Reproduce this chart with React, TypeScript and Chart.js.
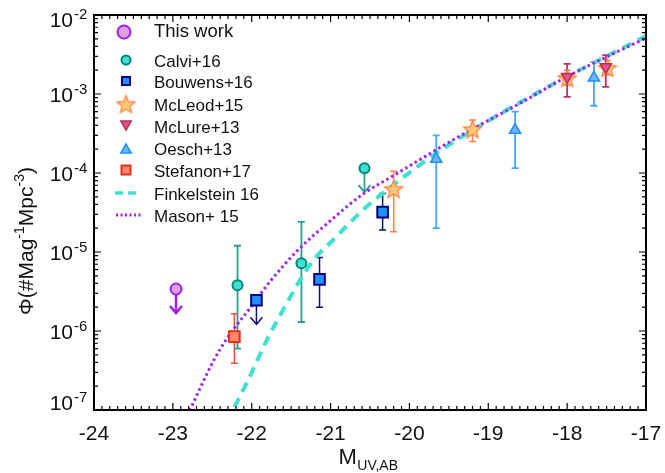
import { useEffect, useRef } from 'react';
import { Chart, registerables } from 'chart.js';

Chart.register(...registerables);

// ---------- axis ticks ----------
const xTickValues = [-24, -23, -22, -21, -20, -19, -18, -17];
const xTickLabels = ['-24', '-23', '-22', '-21', '-20', '-19', '-18', '-17'];
const yTickValues = [1e-7, 1e-6, 1e-5, 1e-4, 1e-3, 1e-2];
const yTickBase = '10';
const yTickExponents = ['-7', '-6', '-5', '-4', '-3', '-2'];

// ---------- data ----------
const thisWorkM = [-22.96];
const thisWorkPhi = [3.4e-6];
const thisWorkLimit = [true];

const calviM = [-22.18, -21.37, -20.57];
const calviPhi = [3.8e-6, 7.2e-6, 1.15e-4];
const calviLo = [6.0e-7, 1.3e-6, null];
const calviHi = [1.2e-5, 2.4e-5, null];
const calviLimit = [false, false, true];

const bouwensM = [-21.94, -21.14, -20.34];
const bouwensPhi = [2.45e-6, 4.5e-6, 3.2e-5];
const bouwensLo = [null, 2.0e-6, 1.9e-5];
const bouwensHi = [null, 8.5e-6, 5.5e-5];
const bouwensLimit = [true, false, false];

const mcleodM = [-20.2, -19.2, -18.0, -17.49];
const mcleodPhi = [6.3e-5, 3.6e-4, 1.6e-3, 2.15e-3];
const mcleodLo = [1.8e-5, 2.5e-4, 1.3e-3, 1.75e-3];
const mcleodHi = [1.05e-4, 4.7e-4, 2.0e-3, 2.65e-3];

const mclureM = [-18.0, -17.51];
const mclurePhi = [1.65e-3, 2.2e-3];
const mclureLo = [9.2e-4, 1.23e-3];
const mclureHi = [2.4e-3, 3.1e-3];

const oeschM = [-19.66, -18.66, -17.66];
const oeschPhi = [1.5e-4, 3.5e-4, 1.6e-3];
const oeschLo = [2.0e-5, 1.15e-4, 7.1e-4];
const oeschHi = [3.0e-4, 6.0e-4, 2.55e-3];

const stefanonM = [-22.22];
const stefanonPhi = [8.5e-7];
const stefanonLo = [3.9e-7];
const stefanonHi = [1.65e-6];

const finkelsteinM = [-22.32, -22.24, -22.06, -21.81, -21.56, -21.37, -21.2, -21.0, -20.57, -20.2, -19.66, -19.2, -18.6, -18.0, -17.5, -17.0];
const finkelsteinPhi = [7.1e-8, 1.0e-7, 2.24e-7, 7.6e-7, 2.2e-6, 4.7e-6, 8.3e-6, 1.32e-5, 3.55e-5, 7.1e-5, 1.78e-4, 3.47e-4, 7.8e-4, 1.66e-3, 3.0e-3, 5.4e-3];

const masonM = [-22.85, -22.78, -22.49, -22.32, -22.03, -21.77, -21.43, -21.0, -20.59, -20.2, -19.37, -18.6, -18.0, -17.5, -17.0];
const masonPhi = [7.4e-8, 1.02e-7, 4.1e-7, 7.9e-7, 1.9e-6, 4.2e-6, 1.02e-5, 2.5e-5, 5.4e-5, 9.3e-5, 2.9e-4, 7.6e-4, 1.66e-3, 2.95e-3, 5.1e-3];

const legendLabels = ['This work', 'Calvi+16', 'Bouwens+16', 'McLeod+15', 'McLure+13', 'Oesch+13', 'Stefanon+17', 'Finkelstein 16', 'Mason+ 15'];

// ---------- styles ----------
const FONT = '"Liberation Sans", Arial, Helvetica, sans-serif';
const TEXT = '#111111';

const C = {
  thisFill: '#dda0dd', thisStroke: '#a020f0',
  calviFill: '#40e0d0', calviStroke: '#00877d', calviErr: '#2a9d93',
  bouwFill: '#1e90ff', bouwStroke: '#000080', bouwErr: '#101070',
  mclFill: '#ffc878', mclStroke: '#ff8040', mclErr: '#ff8050',
  mcluFill: '#e8508a', mcluStroke: '#b0305a', mcluErr: '#c03060',
  oeFill: '#6cb4f0', oeStroke: '#1e8fff', oeErr: '#45a5ff',
  stFill: '#ff8c69', stStroke: '#e0301e', stErr: '#e8503a',
  fink: '#40e0d0', mason: '#a020f0',
};

type Series = {
  m: number[]; phi: number[]; lo?: (number | null)[]; hi?: (number | null)[]; limit?: boolean[];
  color: string; width: number;
};

const errSeries: Series[] = [
  { m: stefanonM, phi: stefanonPhi, lo: stefanonLo, hi: stefanonHi, color: C.stErr, width: 1.5 },
  { m: oeschM, phi: oeschPhi, lo: oeschLo, hi: oeschHi, color: C.oeErr, width: 1.8 },
  { m: mcleodM, phi: mcleodPhi, lo: mcleodLo, hi: mcleodHi, color: C.mclErr, width: 1.5 },
  { m: mclureM, phi: mclurePhi, lo: mclureLo, hi: mclureHi, color: C.mcluErr, width: 1.8 },
  { m: calviM, phi: calviPhi, lo: calviLo, hi: calviHi, limit: calviLimit, color: C.calviErr, width: 1.8 },
  { m: bouwensM, phi: bouwensPhi, lo: bouwensLo, hi: bouwensHi, limit: bouwensLimit, color: C.bouwErr, width: 1.5 },
  { m: thisWorkM, phi: thisWorkPhi, limit: thisWorkLimit, color: C.thisStroke, width: 2.5 },
];

function makeStar(R: number, r: number, fill: string, stroke: string, lw: number) {
  const size = Math.ceil(2 * R + lw + 2);
  const c = document.createElement('canvas');
  c.width = size;
  c.height = size;
  const g = c.getContext('2d')!;
  g.beginPath();
  for (let i = 0; i < 10; i++) {
    const rad = i % 2 === 0 ? R : r;
    const a = -Math.PI / 2 + (i * Math.PI) / 5;
    const px = size / 2 + rad * Math.cos(a);
    const py = size / 2 + 1 + rad * Math.sin(a);
    if (i === 0) g.moveTo(px, py);
    else g.lineTo(px, py);
  }
  g.closePath();
  g.fillStyle = fill;
  g.fill();
  g.lineWidth = lw;
  g.strokeStyle = stroke;
  g.lineJoin = 'miter';
  g.stroke();
  return c;
}

function pts(m: number[], v: number[]) {
  return m.map((x, i) => ({ x, y: v[i] }));
}

export default function App() {
  const ref = useRef<HTMLCanvasElement>(null);

  useEffect(() => {
    const canvas = ref.current!;
    const star = makeStar(9.5, 4.2, C.mclFill, C.mclStroke, 1.2);
    const legendStar = makeStar(9.5, 4.2, C.mclFill, C.mclStroke, 1.2);

    const drawArrowDown = (ctx: CanvasRenderingContext2D, x: number, y: number, len: number, color: string, w: number) => {
      ctx.strokeStyle = color;
      ctx.lineWidth = w;
      ctx.lineCap = 'butt';
      ctx.beginPath();
      ctx.moveTo(x, y);
      ctx.lineTo(x, y + len);
      ctx.stroke();
      ctx.beginPath();
      ctx.moveTo(x - 6, y + len - 7);
      ctx.lineTo(x, y + len);
      ctx.lineTo(x + 6, y + len - 7);
      ctx.stroke();
    };

    const plugin = {
      id: 'customDecor',
      beforeDatasetsDraw(chart: any) {
        const ctx: CanvasRenderingContext2D = chart.ctx;
        const xs = chart.scales.x;
        const ys = chart.scales.y;
        ctx.save();
        for (const s of errSeries) {
          for (let i = 0; i < s.m.length; i++) {
            const px = xs.getPixelForValue(s.m[i]);
            const py = ys.getPixelForValue(s.phi[i]);
            if (s.limit && s.limit[i]) {
              drawArrowDown(ctx, px, py, 24, s.color, s.width);
            } else if (s.lo && s.hi && s.lo[i] != null && s.hi[i] != null) {
              const y1 = ys.getPixelForValue(s.lo[i] as number);
              const y2 = ys.getPixelForValue(s.hi[i] as number);
              ctx.strokeStyle = s.color;
              ctx.lineWidth = s.width;
              ctx.beginPath();
              ctx.moveTo(px, y1);
              ctx.lineTo(px, y2);
              ctx.moveTo(px - 3.5, y1);
              ctx.lineTo(px + 3.5, y1);
              ctx.moveTo(px - 3.5, y2);
              ctx.lineTo(px + 3.5, y2);
              ctx.stroke();
            }
          }
        }
        ctx.restore();
      },
      afterDraw(chart: any) {
        const ctx: CanvasRenderingContext2D = chart.ctx;
        const xs = chart.scales.x;
        const ys = chart.scales.y;
        const a = chart.chartArea;
        ctx.save();
        // frame
        ctx.strokeStyle = '#000';
        ctx.lineWidth = 2;
        ctx.strokeRect(a.left, a.top, a.right - a.left, a.bottom - a.top);
        ctx.lineWidth = 1.2;
        ctx.beginPath();
        // x ticks
        for (let i = 0; i <= 70; i++) {
          const v = -24 + i / 10;
          const px = xs.getPixelForValue(v);
          const len = i % 10 === 0 ? 7 : 4;
          ctx.moveTo(px, a.bottom);
          ctx.lineTo(px, a.bottom - len);
          ctx.moveTo(px, a.top);
          ctx.lineTo(px, a.top + len);
        }
        // y ticks
        for (let e = -7; e <= -2; e++) {
          for (let k = 1; k <= 9; k++) {
            if (e === -2 && k > 1) break;
            const v = k * Math.pow(10, e);
            const py = ys.getPixelForValue(v);
            const len = k === 1 ? 7 : 4;
            ctx.moveTo(a.left, py);
            ctx.lineTo(a.left + len, py);
            ctx.moveTo(a.right, py);
            ctx.lineTo(a.right - len, py);
          }
        }
        ctx.stroke();

        ctx.fillStyle = TEXT;
        ctx.textBaseline = 'alphabetic';
        // x tick labels
        ctx.font = `21px ${FONT}`;
        ctx.textAlign = 'center';
        xTickValues.forEach((v, i) => {
          ctx.fillText(xTickLabels[i], xs.getPixelForValue(v), 440);
        });
        // y tick labels
        yTickValues.forEach((v, i) => {
          const py = ys.getPixelForValue(v);
          const base = Math.min(Math.max(py + 8, 27), 410);
          ctx.font = `21px ${FONT}`;
          ctx.textAlign = 'right';
          ctx.fillText(yTickBase, 73, base);
          ctx.font = `15px ${FONT}`;
          ctx.textAlign = 'left';
          ctx.fillText(yTickExponents[i], 74, base - 8);
        });

        // x title
        ctx.textAlign = 'left';
        ctx.font = `22px ${FONT}`;
        const wM = ctx.measureText('M').width;
        ctx.font = `14px ${FONT}`;
        const wSub = ctx.measureText('UV,AB').width;
        const cx = (a.left + a.right) / 2 - 2;
        const sx = cx - (wM + wSub) / 2;
        ctx.font = `22px ${FONT}`;
        ctx.fillText('M', sx, 464);
        ctx.font = `14px ${FONT}`;
        ctx.fillText('UV,AB', sx + wM + 0.5, 470);

        // y title (rotated)
        const parts: [string, boolean][] = [['Φ(#Mag', false], ['-1', true], ['Mpc', false], ['-3', true], [')', false]];
        let total = 0;
        const widths = parts.map(([t, sup]) => {
          ctx.font = sup ? `14px ${FONT}` : `21px ${FONT}`;
          const w = ctx.measureText(t).width;
          total += w;
          return w;
        });
        ctx.save();
        ctx.translate(33, 241);
        ctx.rotate(-Math.PI / 2);
        let tx = -total / 2;
        parts.forEach(([t, sup], i) => {
          ctx.font = sup ? `14px ${FONT}` : `21px ${FONT}`;
          ctx.fillText(t, tx, sup ? -9 : 0);
          tx += widths[i];
        });
        ctx.restore();

        // legend
        const mx = 126;
        const tx0 = 154;
        const baselines = [37, 67, 88, 111, 133, 155, 177, 200, 222];
        // This work
        ctx.beginPath();
        ctx.arc(124, 32, 6.5, 0, Math.PI * 2);
        ctx.fillStyle = C.thisFill;
        ctx.fill();
        ctx.lineWidth = 2;
        ctx.strokeStyle = C.thisStroke;
        ctx.stroke();
        // Calvi
        ctx.beginPath();
        ctx.arc(mx, 60, 4.5, 0, Math.PI * 2);
        ctx.fillStyle = C.calviFill;
        ctx.fill();
        ctx.lineWidth = 2;
        ctx.strokeStyle = C.calviStroke;
        ctx.stroke();
        // Bouwens
        ctx.fillStyle = C.bouwFill;
        ctx.fillRect(mx - 4, 81 - 4, 8, 8);
        ctx.lineWidth = 2;
        ctx.strokeStyle = C.bouwStroke;
        ctx.strokeRect(mx - 4, 81 - 4, 8, 8);
        // McLeod star
        ctx.drawImage(legendStar, mx - legendStar.width / 2, 104 - legendStar.height / 2);
        // McLure (down triangle)
        const tri = (x: number, y: number, r: number, down: boolean, fill: string, stroke: string) => {
          const s = down ? -1 : 1;
          ctx.beginPath();
          ctx.moveTo(x, y - s * r);
          ctx.lineTo(x + Math.sin((2 * Math.PI) / 3) * r, y + s * r / 2);
          ctx.lineTo(x - Math.sin((2 * Math.PI) / 3) * r, y + s * r / 2);
          ctx.closePath();
          ctx.fillStyle = fill;
          ctx.fill();
          ctx.lineWidth = 1.5;
          ctx.strokeStyle = stroke;
          ctx.stroke();
        };
        tri(mx, 124, 6, true, C.mcluFill, C.mcluStroke);
        tri(mx, 150, 6, false, C.oeFill, C.oeStroke);
        // Stefanon
        ctx.fillStyle = C.stFill;
        ctx.fillRect(mx - 4.5, 170 - 4.5, 9, 9);
        ctx.lineWidth = 2;
        ctx.strokeStyle = C.stStroke;
        ctx.strokeRect(mx - 4.5, 170 - 4.5, 9, 9);
        // Finkelstein line
        ctx.setLineDash([8, 5]);
        ctx.lineWidth = 3.5;
        ctx.strokeStyle = C.fink;
        ctx.beginPath();
        ctx.moveTo(115, 193);
        ctx.lineTo(136, 193);
        ctx.stroke();
        // Mason line
        ctx.setLineDash([2, 2.5]);
        ctx.lineWidth = 3;
        ctx.strokeStyle = C.mason;
        ctx.beginPath();
        ctx.moveTo(116, 215);
        ctx.lineTo(143, 215);
        ctx.stroke();
        ctx.setLineDash([]);

        ctx.fillStyle = TEXT;
        ctx.textAlign = 'left';
        legendLabels.forEach((lab, i) => {
          ctx.font = i === 0 ? `18.5px ${FONT}` : `17px ${FONT}`;
          ctx.fillText(lab, tx0, baselines[i]);
        });
        ctx.restore();
      },
    };

    const chart = new Chart(canvas, {
      type: 'scatter',
      data: {
        datasets: [
          {
            label: legendLabels[7],
            data: pts(finkelsteinM, finkelsteinPhi),
            showLine: true,
            pointRadius: 0,
            borderColor: C.fink,
            borderWidth: 4,
            borderDash: [10, 7],
            cubicInterpolationMode: 'monotone',
            order: 20,
          } as any,
          {
            label: legendLabels[8],
            data: pts(masonM, masonPhi),
            showLine: true,
            pointRadius: 0,
            borderColor: C.mason,
            borderWidth: 3,
            borderDash: [2.5, 3],
            cubicInterpolationMode: 'monotone',
            order: 19,
          } as any,
          {
            label: legendLabels[6],
            data: pts(stefanonM, stefanonPhi),
            pointStyle: 'rect',
            pointRadius: 7.5,
            backgroundColor: C.stFill,
            borderColor: C.stStroke,
            borderWidth: 2,
            order: 9,
          },
          {
            label: legendLabels[5],
            data: pts(oeschM, oeschPhi),
            pointStyle: 'triangle',
            pointRadius: 6.5,
            backgroundColor: C.oeFill,
            borderColor: C.oeStroke,
            borderWidth: 1.5,
            order: 8,
          },
          {
            label: legendLabels[3],
            data: pts(mcleodM, mcleodPhi),
            pointStyle: star as any,
            pointRadius: 10,
            order: 7,
          },
          {
            label: legendLabels[4],
            data: pts(mclureM, mclurePhi),
            pointStyle: 'triangle',
            pointRotation: 180,
            pointRadius: 6.5,
            backgroundColor: C.mcluFill,
            borderColor: C.mcluStroke,
            borderWidth: 1.5,
            order: 6,
          },
          {
            label: legendLabels[1],
            data: pts(calviM, calviPhi),
            pointStyle: 'circle',
            pointRadius: 5,
            backgroundColor: C.calviFill,
            borderColor: C.calviStroke,
            borderWidth: 2,
            order: 5,
          },
          {
            label: legendLabels[2],
            data: pts(bouwensM, bouwensPhi),
            pointStyle: 'rect',
            pointRadius: 7.5,
            backgroundColor: C.bouwFill,
            borderColor: C.bouwStroke,
            borderWidth: 2,
            order: 4,
          },
          {
            label: legendLabels[0],
            data: pts(thisWorkM, thisWorkPhi),
            pointStyle: 'circle',
            pointRadius: 5.5,
            backgroundColor: C.thisFill,
            borderColor: C.thisStroke,
            borderWidth: 2,
            order: 3,
          },
        ],
      },
      options: {
        responsive: false,
        animation: false,
        events: [],
        layout: { padding: { left: 94, right: 19, top: 15, bottom: 63 } },
        scales: {
          x: { type: 'linear', min: -24, max: -17, display: false },
          y: { type: 'logarithmic', min: 1e-7, max: 1e-2, display: false },
        },
        plugins: { legend: { display: false }, tooltip: { enabled: false } },
      },
      plugins: [plugin],
    });
    return () => chart.destroy();
  }, []);

  return (
    <div style={{ position: 'absolute', left: 0, top: 0, width: 665, height: 473, background: '#fff' }}>
      <canvas ref={ref} width={665} height={473} style={{ width: 665, height: 473, display: 'block' }} />
    </div>
  );
}
